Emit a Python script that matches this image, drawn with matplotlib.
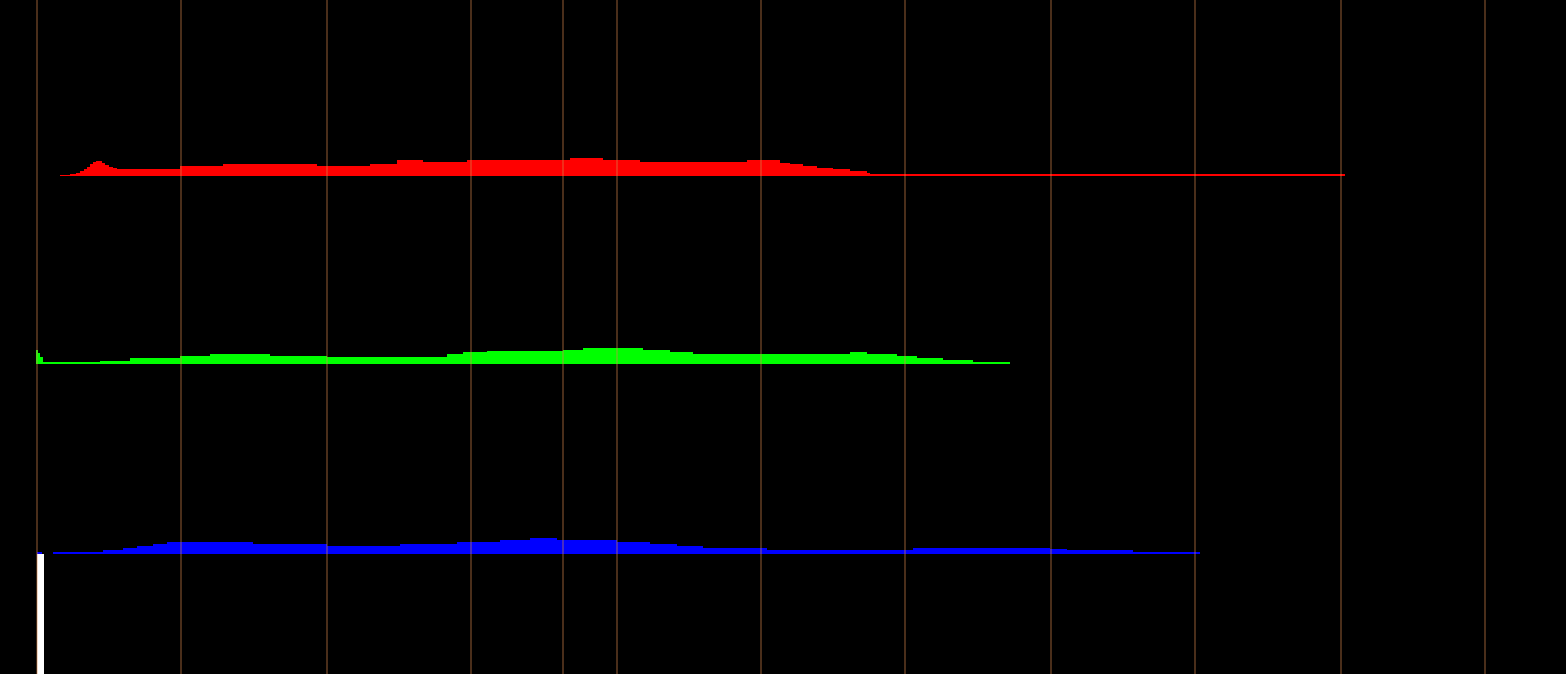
import numpy as np
import matplotlib
matplotlib.use("Agg")
import matplotlib.pyplot as plt

#%% data (x in screen units, heights of each track above its baseline)

grid_x = [37, 181, 327, 471, 563, 617, 761, 905, 1051, 1195, 1341, 1485]

red_x = [60, 70, 76, 80, 84, 87, 90, 93, 96, 99, 102, 105, 109, 113, 117, 180, 223,
         317, 370, 397, 423, 467, 570, 603, 640, 747, 780, 790, 803, 817, 833, 850,
         867, 870, 1345]
red_h = [1.5, 2.5, 3.5, 5, 7, 9.5, 12, 14, 15.5, 15, 13, 11, 9.5, 8, 7, 10, 12,
         10, 12, 16, 14, 16, 18, 16, 14, 16, 13, 12, 10, 8.5, 7, 5,
         3.5, 2, 2]

green_x = [36, 38, 40, 43, 100, 130, 180, 210, 270, 327, 447, 463, 487, 563, 583,
           643, 670, 693, 850, 867, 897, 917, 943, 973, 1010]
green_h = [14, 11, 7, 2, 3.5, 6, 8, 10, 8, 7.5, 10, 12, 13.5, 14.5, 16,
           14, 12, 10, 12, 10, 8, 6, 4, 2, 2]

blue_x = [37, 42, 53, 103, 123, 137, 153, 167, 253, 327, 400, 457, 500, 530, 557,
          617, 650, 677, 703, 767, 913, 1050, 1067, 1133, 1200]
blue_h = [1.7, 0, 1.7, 4, 5.7, 8, 10, 12, 10, 8, 10, 12, 14, 16, 14,
          12, 10, 8, 6, 4, 6, 5, 4, 2, 2]

level_x = 37
level_top = 554

tracks = [
    (red_x, red_h, 176, '#ff0000'),
    (green_x, green_h, 364, '#00ff00'),
    (blue_x, blue_h, 554, '#0000ff'),
]

#%% plot
W, H = 1566, 674
fig = plt.figure(figsize=(W / 100, H / 100), dpi=100, facecolor='black')
ax = fig.add_axes([0, 0, 1, 1])
ax.set_facecolor('black')
ax.set_xlim(0, W)
ax.set_ylim(H, 0)
ax.axis('off')

for xs, hs, base, col in tracks:
    xs = np.array(xs, dtype=float)
    hs = np.array(hs, dtype=float)
    ax.fill_between(xs, base - hs, base, step='post', color=col, linewidth=0, zorder=2)

# level meter
ax.bar(level_x, H - level_top, bottom=level_top, width=7, align='edge',
       color='white', linewidth=0, zorder=3)

ax.vlines(grid_x, 0, H, color='#d8884e', alpha=0.45, linewidth=1.1, zorder=4)

plt.savefig('out.png', dpi=100, facecolor='black')
